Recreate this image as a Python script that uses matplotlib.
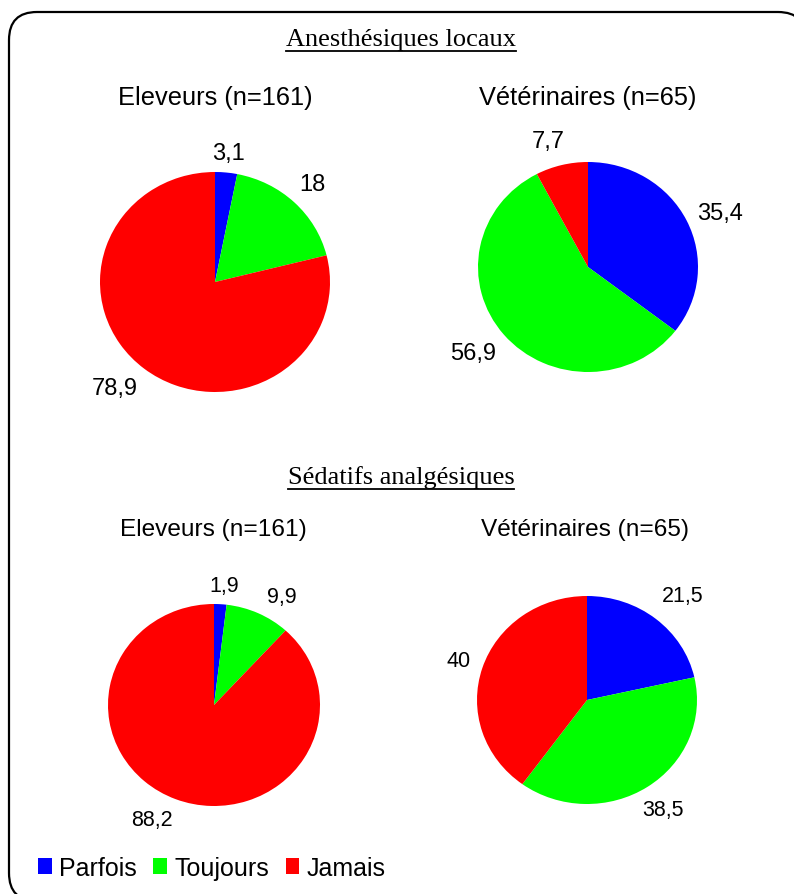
import numpy as np
import matplotlib
matplotlib.use("Agg")
import matplotlib.pyplot as plt
from matplotlib.patches import FancyBboxPatch, Patch
from matplotlib.lines import Line2D

plt.rcParams["font.family"] = ["Liberation Sans", "DejaVu Sans"]
W, H = 794, 895

categories = ["Parfois", "Toujours", "Jamais"]
colors = ["#0000FF", "#00FF00", "#FF0000"]

titles = ["Anesthésiques locaux", "Sédatifs analgésiques"]
groups = ["Eleveurs (n=161)", "Vétérinaires (n=65)"]

anesth_eleveurs = [3.1, 18, 78.9]
anesth_vets = [35.4, 56.9, 7.7]
sedat_eleveurs = [1.9, 9.9, 88.2]
sedat_vets = [21.5, 38.5, 40]


def fmt(v):
    return ("%g" % v).replace(".", ",")


fig = plt.figure(figsize=(W / 100, H / 100), dpi=100)
bg = fig.add_axes([0, 0, 1, 1])
bg.set_xlim(0, W); bg.set_ylim(H, 0); bg.axis("off")

# cadre arrondi
bg.add_patch(FancyBboxPatch((9, 13), 797, 889, boxstyle="round,pad=0,rounding_size=28",
                            fc="white", ec="black", lw=1.6))


def pie_at(vals, cx, cy, rx, ry, dists, dang, fs):
    ax = fig.add_axes([(cx - rx) / W, 1 - (cy + ry) / H, 2 * rx / W, 2 * ry / H])
    ax.pie(vals, colors=colors, startangle=90, counterclock=False)
    # étiquettes sur l'angle médian de chaque part
    frac = np.array(vals, float) / np.sum(vals)
    mids = 90 - 360 * (np.cumsum(frac) - frac / 2)
    for v, a, d, da in zip(vals, mids, dists, dang):
        r = np.deg2rad(a + da)
        ax.text(d * np.cos(r), d * np.sin(r), fmt(v), ha="center", va="center", fontsize=fs)
    ax.set_aspect("auto")
    ax.set_xlim(-1, 1); ax.set_ylim(-1, 1)
    ax.axis("off")


pie_at(anesth_eleveurs, 215, 283, 115, 110, [1.18, 1.23, 1.30], [0, 0, -4], 17)
pie_at(anesth_vets, 588, 268, 110, 105, [1.31, 1.33, 1.25], [-3, -2, 3], 17)
pie_at(sedat_eleveurs, 214, 706, 106, 101, [1.19, 1.25, 1.27], [-1, -6, -6], 15.5)
pie_at(sedat_vets, 587, 701, 110, 104, [1.33, 1.26, 1.23], [-2, 0, 0], 15.5)

# titres soulignés
fig.canvas.draw()
rend = fig.canvas.get_renderer()
for title, y in zip(titles, [40, 478]):
    t = bg.text(401, y, title, ha="center", va="center", fontsize=19,
                family=["Liberation Serif", "DejaVu Serif"])
    bb = t.get_window_extent(rend).transformed(bg.transData.inverted())
    bg.add_line(Line2D([bb.x0, bb.x1], [y + 12, y + 12], color="black", lw=1.3))

bg.text(215, 98, groups[0], ha="center", va="center", fontsize=18.3)
bg.text(588, 98, groups[1], ha="center", va="center", fontsize=18.3)
bg.text(213, 530, groups[0], ha="center", va="center", fontsize=17.6)
bg.text(585, 530, groups[1], ha="center", va="center", fontsize=17.6)

handles = [Patch(fc=c, ec="none") for c in colors]
fig.legend(handles, categories, loc="center left", bbox_to_anchor=(38 / W, 1 - 869 / H),
           ncol=3, frameon=False, fontsize=18, handlelength=0.55, handleheight=0.6,
           handletextpad=0.3, columnspacing=0.65, borderpad=0, borderaxespad=0)

fig.savefig("out.png", dpi=100)
